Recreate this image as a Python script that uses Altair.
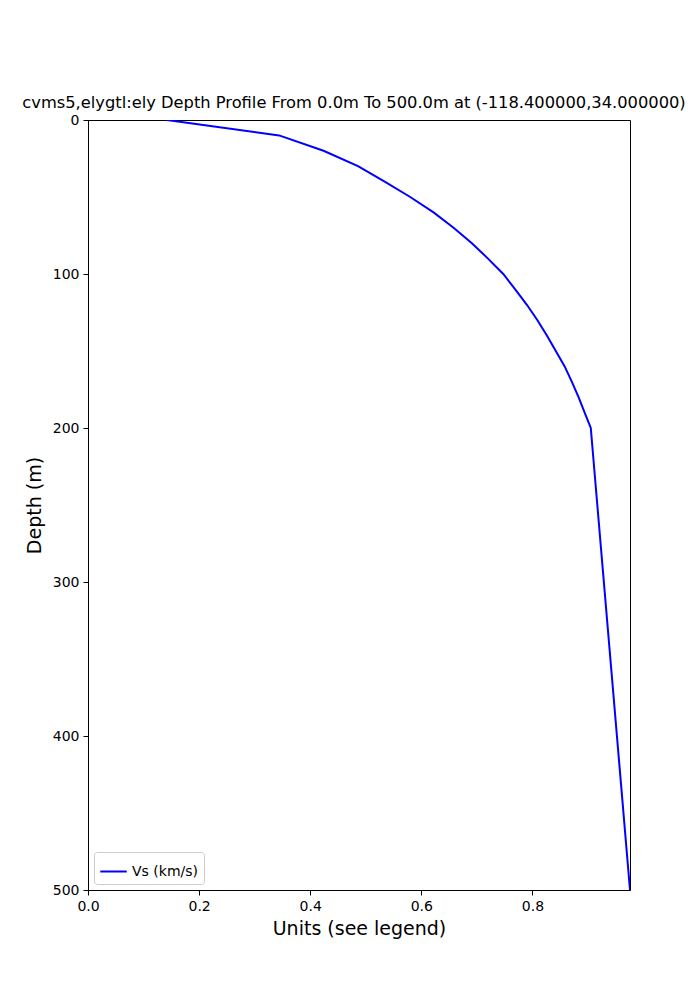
import altair as alt
import pandas as pd

depth_m = [0, 10, 20, 30, 40, 50, 60, 70, 80, 90, 100, 110, 120, 130, 140, 150,
           160, 170, 180, 190, 200, 500]
vs_kms = [0.142, 0.344, 0.424, 0.486, 0.534, 0.580, 0.622, 0.658, 0.691, 0.720,
          0.7475, 0.769, 0.790, 0.809, 0.826, 0.842, 0.858, 0.871, 0.883, 0.894,
          0.905, 0.9756]
series_name = "Vs (km/s)"
x_ticks = [0.0, 0.2, 0.4, 0.6, 0.8]
y_ticks = [0, 100, 200, 300, 400, 500]
title_text = "cvms5,elygtl:ely Depth Profile From 0.0m To 500.0m at (-118.400000,34.000000)"

df = pd.DataFrame({"depth": depth_m, "vs": vs_kms, "series": [series_name] * len(depth_m)})

FONT = "DejaVu Sans"

chart = alt.Chart(df).mark_line(strokeWidth=2, clip=True).encode(
    x=alt.X("vs:Q",
            scale=alt.Scale(domain=[0, max(vs_kms)], nice=False, zero=False),
            axis=alt.Axis(values=x_ticks, format=".1f", title="Units (see legend)",
                          titleFontSize=19, titleFontWeight="normal", titlePadding=6,
                          labelFontSize=14, labelPadding=4, tickSize=5,
                          grid=False, labelFlush=False)),
    y=alt.Y("depth:Q",
            scale=alt.Scale(domain=[0, 500], reverse=True, nice=False, zero=False),
            axis=alt.Axis(values=y_ticks, format="d", title="Depth (m)",
                          titleFontSize=19, titleFontWeight="normal", titlePadding=8,
                          labelFontSize=14, labelPadding=4, tickSize=5,
                          grid=False, labelFlush=False)),
    color=alt.Color("series:N",
                    scale=alt.Scale(domain=[series_name], range=["#0000ff"]),
                    legend=alt.Legend(title=None, orient="bottom-left", offset=6,
                                      fillColor="white", strokeColor="#cccccc",
                                      cornerRadius=3, padding=5,
                                      symbolType="stroke", symbolSize=700,
                                      symbolStrokeWidth=2,
                                      labelFontSize=14, labelFont=FONT)),
    order=alt.Order("depth:Q"),
).properties(
    width=542,
    height=770,
    title=alt.TitleParams(title_text, fontSize=16.3, font=FONT, fontWeight="normal",
                          anchor="middle", offset=2, dx=-5, color="black"),
    autosize=alt.AutoSizeParams(type="none"),
    padding={"left": 80, "top": 112, "right": 62, "bottom": 100},
).configure_view(
    stroke="black", strokeWidth=1
).configure_axis(
    labelFont=FONT, titleFont=FONT, labelColor="black", titleColor="black",
    domainColor="black", tickColor="black", domainWidth=1, tickWidth=1
)

chart.save("out.html", embed_options={"renderer": "svg", "actions": False})
